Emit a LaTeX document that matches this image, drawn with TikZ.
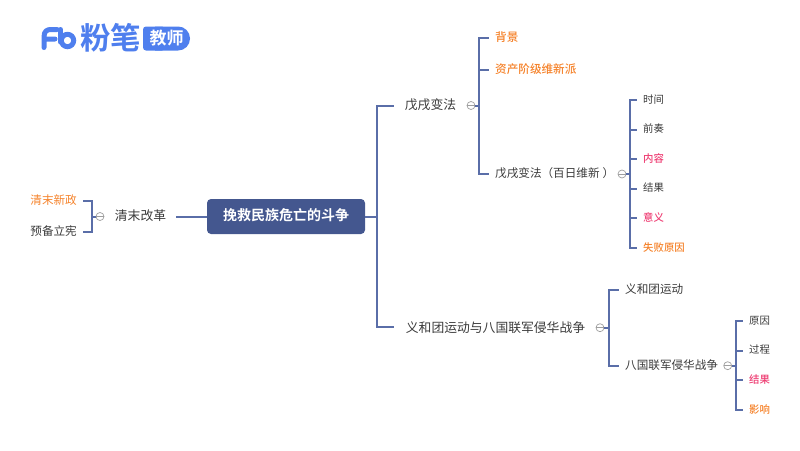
\documentclass[tikz,border=0pt]{standalone}
\usepackage{fontspec}
\setmainfont{Noto Sans CJK SC}
\newfontfamily\boldcjk{Noto Sans CJK SC Bold}
\newfontfamily\medcjk{Noto Sans CJK SC Medium}
\usetikzlibrary{calc}
\definecolor{linec}{HTML}{5A6EA8}
\definecolor{rootc}{HTML}{44578F}
\definecolor{inkc}{HTML}{3A3A3A}
\definecolor{orangec}{HTML}{F5822A}
\definecolor{pinkc}{HTML}{EE3F74}
\definecolor{logoc}{HTML}{4F7FEE}
\tikzset{
  x=1pt,y=-1pt,
  conn/.style={draw=linec,line width=2pt},
  toggle/.style={circle,draw=gray!75,line width=0.7pt,minimum size=8pt,inner sep=0pt,fill=white,
    path picture={\draw[gray!75,line width=0.7pt] (path picture bounding box.west) -- (path picture bounding box.east);}},
  lab/.style={inner xsep=6pt,inner ysep=0pt,text height=9pt,text depth=2.1pt,text=inkc,font=\fontsize{11.6}{14}\selectfont,anchor=west},
  labsmall/.style={lab,text height=8pt,text depth=1.2pt,font=\fontsize{10.4}{13}\selectfont},
  labbig/.style={inner xsep=0pt,inner ysep=0pt,text=inkc,font=\fontsize{12.8}{15}\selectfont},
  hot/.style={text=orangec},
  red/.style={text=pinkc},
}
\begin{document}
\begin{tikzpicture}
\useasboundingbox (0,0) rectangle (800,450);
% logo
\fill[logoc,rounded corners=3pt] (143,26.5) rectangle (165,50.5);
\fill[logoc] (155,26.5) -- (178,26.5) .. controls (185,26.5) and (190,32) .. (190,38.5) .. controls (190,45) and (185,50.5) .. (178,50.5) -- (155,50.5) -- cycle;
\node (logotext) at (166.5,38.3) [text=white,inner sep=0pt,font=\boldcjk\fontsize{17}{18}\selectfont] {教师};
\node (logoname) at (110.5,38) [text=logoc,inner sep=0pt,font=\boldcjk\fontsize{30.5}{32}\selectfont] {粉笔};
\draw[logoc,line width=5pt,line cap=round,line join=round] (44,47.5) -- (44,37) .. controls (44,31) and (47,29.5) .. (51,29.5) -- (57,29.5) (44,39) -- (55,39);
\draw[logoc,line width=5pt,line cap=round] (60.5,29.5) -- (60.5,42);
\draw[logoc,line width=5pt] (67.5,40.5) circle[radius=6.2];
% root
\node (root) at (286,216.5) [fill=rootc,rounded corners=4pt,minimum width=158pt,minimum height=35pt,inner sep=0pt] {};
\node (roottext) at (286,215.5) [inner sep=0pt,text=white,font=\boldcjk\fontsize{14}{16}\selectfont] {挽救民族危亡的斗争};
% left
\coordinate (lstub) at (176,216.5);
\node (qm) at (140.5,216) [labbig] {清末改革};
\node (tq) at (100,216.5) [toggle] {};
\coordinate (jq) at (92,216.5);
\node (qa) at (83,201) [lab,anchor=east,hot] {清末新政};
\node (qb) at (83,232) [lab,anchor=east] {预备立宪};
% right level 1
\coordinate (jr) at (376.5,216.5);
\coordinate (sw) at (394,105.5);
\coordinate (yw) at (394,327);
\node (wx) at (430.5,105) [labbig] {戊戌变法};
\node (yh) at (495.5,327.5) [labbig] {义和团运动与八国联军侵华战争};
\node (t1) at (471,105.5) [toggle] {};
\node (t2) at (600,327.7) [toggle] {};
% wuxu
\coordinate (j1) at (478.7,105.5);
\node (bj) at (489,37.7) [lab,hot] {\medcjk 背景};
\node (zc) at (489,69.7) [lab,hot] {\medcjk 资产阶级维新派};
\node (bl) at (489,174) [lab] {戊戌变法（百日维新\hspace{3pt}）};
\node (t3) at (622,174) [toggle] {};
\coordinate (j3) at (630,174);
\node (a1) at (637,100) [labsmall] {时间};
\node (a2) at (637,129.5) [labsmall] {前奏};
\node (a3) at (637,159) [labsmall,red] {\medcjk 内容};
\node (a4) at (637,188.5) [labsmall] {结果};
\node (a5) at (637,218) [labsmall,red] {\medcjk 意义};
\node (a6) at (637,248) [labsmall,hot] {\medcjk 失败原因};
% yihe
\coordinate (j2) at (609,327.7);
\node (y1) at (619,290) [lab] {义和团运动};
\node (y2) at (619,365.7) [lab] {八国联军侵华战争};
\node (t4) at (727.7,365.7) [toggle] {};
\coordinate (j4) at (736,365.7);
\node (b1) at (743,321) [labsmall] {原因};
\node (b2) at (743,350.5) [labsmall] {过程};
\node (b3) at (743,380) [labsmall,red] {\medcjk 结果};
\node (b4) at (743,410) [labsmall,hot] {\medcjk 影响};
% connectors
\draw[conn] (root.west |- lstub) -- (lstub);
\draw[conn] (tq.west) -- (jq);
\draw[conn] (jq) |- (qa.east);
\draw[conn] (jq) |- (qb.east);
\draw[conn] (root.east |- jr) -- (jr);
\draw[conn] (jr) |- (sw);
\draw[conn] (jr) |- (yw);
\draw[conn] (t1.east) -- (j1);
\foreach \n in {bj,zc,bl} \draw[conn] (j1) |- (\n.west);
\draw[conn] (t3.east) -- (j3);
\foreach \n in {a1,a2,a3,a4,a5,a6} \draw[conn] (j3) |- (\n.west);
\draw[conn] (t2.east) -- (j2);
\foreach \n in {y1,y2} \draw[conn] (j2) |- (\n.west);
\draw[conn] (t4.east) -- (j4);
\foreach \n in {b1,b2,b3,b4} \draw[conn] (j4) |- (\n.west);
\end{tikzpicture}
\end{document}
